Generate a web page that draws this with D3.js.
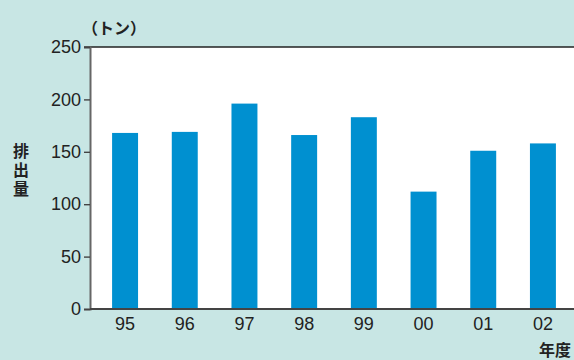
<!DOCTYPE html>
<html>
<head>
<meta charset="utf-8">
<script src="https://cdn.jsdelivr.net/npm/d3@7"></script>
<style>
  html, body { margin: 0; padding: 0; background: #c8e6e4; }
  svg { display: block; }
  text { font-family: "Liberation Sans", Arial, Helvetica, sans-serif; fill: #222; }
  .jp { font-family: "Noto Sans CJK JP", sans-serif; font-weight: 700; }
</style>
</head>
<body>
<svg id="chart" width="574" height="360"></svg>
<script>
// Annual emissions (tons) by fiscal year
const years = ["95", "96", "97", "98", "99", "00", "01", "02"];
const emissions = [168, 169, 196, 166, 183, 112, 151, 158];
const yTicks = [0, 50, 100, 150, 200, 250];

const W = 574, H = 360;
const plot = { left: 90, right: 574, top: 47, bottom: 309 };

const svg = d3.select("#chart");
svg.append("rect").attr("width", W).attr("height", H).attr("fill", "#c8e6e4");

const x = d3.scaleBand()
  .domain(years)
  .range([plot.left, 578])
  .paddingInner(0.565)
  .paddingOuter(0.37);

const y = d3.scaleLinear().domain([0, 250]).range([plot.bottom, plot.top]);

// plot background
svg.append("rect")
  .attr("x", plot.left).attr("y", plot.top)
  .attr("width", plot.right - plot.left).attr("height", plot.bottom - plot.top)
  .attr("fill", "#ffffff");

// bars
svg.append("g").selectAll("rect")
  .data(years.map((d, i) => ({ year: d, value: emissions[i] })))
  .join("rect")
  .attr("x", d => x(d.year))
  .attr("width", x.bandwidth())
  .attr("y", d => y(d.value))
  .attr("height", d => y(0) - y(d.value))
  .attr("fill", "#0090d0");

// top frame line
svg.append("line")
  .attr("x1", 84).attr("x2", W)
  .attr("y1", y(250)).attr("y2", y(250))
  .attr("stroke", "#222").attr("stroke-width", 1.6);

// y axis
const yAxis = svg.append("g")
  .attr("transform", `translate(${plot.left},0)`)
  .call(d3.axisLeft(y).tickValues(yTicks).tickSize(6).tickPadding(3));
yAxis.select(".domain").attr("stroke", "#666").attr("stroke-width", 2);
yAxis.selectAll(".tick line").attr("stroke", "#444").attr("stroke-width", 1.4);
yAxis.selectAll(".tick text")
  .attr("font-size", 18).attr("fill", "#222")
  .style("font-family", "'Liberation Sans', Arial, sans-serif");

// x axis
const xAxis = svg.append("g")
  .attr("transform", `translate(0,${plot.bottom})`)
  .call(d3.axisBottom(x).tickSize(0).tickPadding(8));
xAxis.select(".domain").attr("stroke", "#444").attr("stroke-width", 2)
  .attr("d", `M${plot.left},0H${W}`);
xAxis.selectAll(".tick text")
  .attr("font-size", 18).attr("fill", "#222")
  .style("font-family", "'Liberation Sans', Arial, sans-serif");

// unit label
svg.append("text").attr("class", "jp")
  .attr("x", 82).attr("y", 34)
  .attr("font-size", 16)
  .text("（トン）");

// vertical y title, set top-to-bottom
svg.append("text").attr("class", "jp")
  .attr("x", 21).attr("y", 143)
  .attr("font-size", 16)
  .style("writing-mode", "vertical-rl")
  .style("letter-spacing", "3px")
  .text("排出量");

// x title
svg.append("text").attr("class", "jp")
  .attr("x", 555).attr("y", 356)
  .attr("text-anchor", "middle")
  .attr("font-size", 16)
  .text("年度");
</script>
</body>
</html>
